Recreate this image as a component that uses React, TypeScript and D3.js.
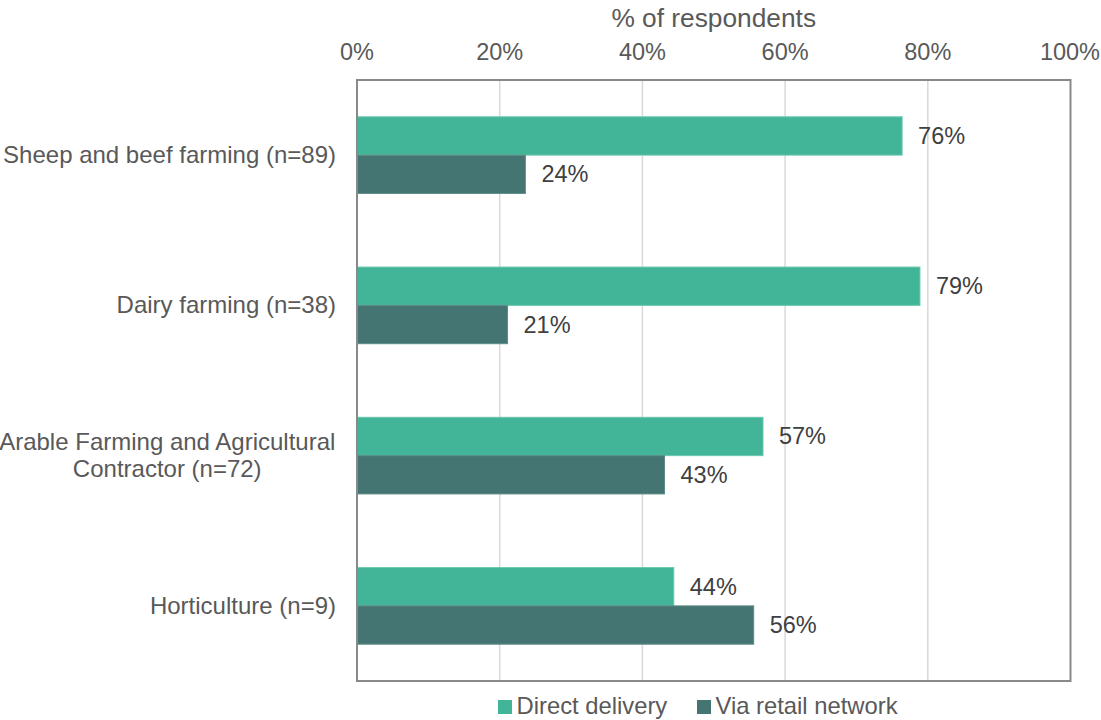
import React from "react";
import * as d3 from "d3";

const categories = [
  ["Sheep and beef farming (n=89)"],
  ["Dairy farming (n=38)"],
  ["Arable Farming and Agricultural", "Contractor (n=72)"],
  ["Horticulture (n=9)"],
];
const seriesNames = ["Direct delivery", "Via retail network"];
const directDelivery = [76.4, 78.9, 56.9, 44.4];
const viaRetail = [23.6, 21.1, 43.1, 55.6];
const directLabels = ["76%", "79%", "57%", "44%"];
const retailLabels = ["24%", "21%", "43%", "56%"];
const xTicks = [0, 20, 40, 60, 80, 100];

const W = 1101;
const H = 720;
const FONT = "'Liberation Sans', Arial, sans-serif";
const COLORS = ["#42b497", "#457572"];
const STROKES = ["#6cc8ae", "#5d8c89"];

function measure(text: string, size: number) {
  const c = document.createElement("canvas").getContext("2d")!;
  c.font = `${size}px ${FONT}`;
  return c.measureText(text).width;
}

export default function App() {
  const left = 357, right = 1070.5, top = 80, bottom = 681;
  const x = d3.scaleLinear().domain([0, 100]).range([left, right]);
  const y = d3
    .scaleBand<number>()
    .domain(categories.map((_, i) => i))
    .range([top, bottom])
    .paddingInner(0.49)
    .paddingOuter(0.245);
  const bw = y.bandwidth() / 2;
  const series = [directDelivery, viaRetail];
  const labels = [directLabels, retailLabels];

  return (
    <svg width={W} height={H} style={{ position: "absolute", left: 0, top: 0 }} fontFamily={FONT}>
      <rect width={W} height={H} fill="#fff" />
      <text x={(left + right) / 2} y={26.5} textAnchor="middle" fontSize={26.3} fill="#595959">
        % of respondents
      </text>
      {xTicks.map((t) => (
        <g key={t}>
          <text x={Math.min(x(t), 1100 - measure(`${t}%`, 23.5) / 2)} y={60} textAnchor="middle" fontSize={23.5} fill="#595959">
            {t}%
          </text>
          {t > 0 && t < 100 && (
            <line x1={x(t)} x2={x(t)} y1={top} y2={bottom} stroke="#d9d9d9" strokeWidth={1.5} />
          )}
        </g>
      ))}
      {categories.map((lines, i) => {
        const c = (y(i) as number) + y.bandwidth() / 2;
        const labelRight = 336;
        if (lines.length === 1) {
          return (
            <text key={i} x={labelRight} y={c + 8} textAnchor="end" fontSize={24} fill="#595959">
              {lines[0]}
            </text>
          );
        }
        const maxW = Math.max(...lines.map((l) => measure(l, 24)));
        const cx = labelRight - maxW / 2;
        const lh = 27;
        return (
          <text key={i} textAnchor="middle" fontSize={24} fill="#595959">
            {lines.map((l, j) => (
              <tspan key={j} x={cx} y={c + 8 - ((lines.length - 1) * lh) / 2 + j * lh}>
                {l}
              </tspan>
            ))}
          </text>
        );
      })}
      {series.map((vals, s) =>
        vals.map((v, i) => {
          const by = (y(i) as number) + s * bw;
          return (
            <g key={`${s}-${i}`}>
              <rect
                x={x(0)}
                y={by}
                width={x(v) - x(0)}
                height={bw}
                fill={COLORS[s]}
                stroke={STROKES[s]}
                strokeWidth={1}
              />
              <text x={x(v) + 16} y={by + bw / 2 + 8} fontSize={23.5} fill="#404040">
                {labels[s][i]}
              </text>
            </g>
          );
        })
      )}
      <rect x={left} y={top} width={right - left} height={bottom - top} fill="none" stroke="#898989" strokeWidth={2} />
      {seriesNames.map((n, i) => {
        const lx = [498, 697][i];
        return (
          <g key={n}>
            <rect x={lx} y={700} width={14} height={14} fill={COLORS[i]} />
            <text x={lx + 18.5} y={714} fontSize={23.8} fill="#595959">
              {n}
            </text>
          </g>
        );
      })}
    </svg>
  );
}
